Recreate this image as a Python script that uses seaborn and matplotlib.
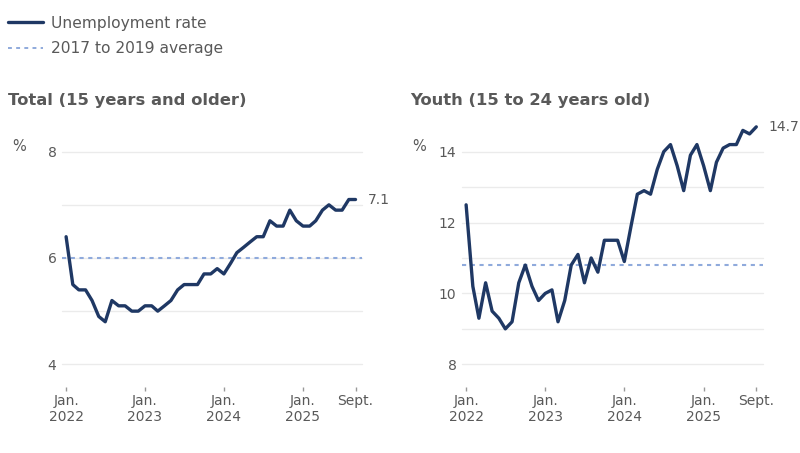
import numpy as np
import pandas as pd
import seaborn as sns
import matplotlib.pyplot as plt
from matplotlib.lines import Line2D

# Monthly data, Jan 2022 - Sept 2025
months = pd.date_range("2022-01-01", "2025-09-01", freq="MS")

total_rate = [6.4, 5.5, 5.4, 5.4, 5.2, 4.9, 4.8, 5.2, 5.1, 5.1, 5.0, 5.0,
              5.1, 5.1, 5.0, 5.1, 5.2, 5.4, 5.5, 5.5, 5.5, 5.7, 5.7, 5.8,
              5.7, 5.9, 6.1, 6.2, 6.3, 6.4, 6.4, 6.7, 6.6, 6.6, 6.9, 6.7,
              6.6, 6.6, 6.7, 6.9, 7.0, 6.9, 6.9, 7.1, 7.1]
youth_rate = [12.5, 10.2, 9.3, 10.3, 9.5, 9.3, 9.0, 9.2, 10.3, 10.8, 10.2, 9.8,
              10.0, 10.1, 9.2, 9.8, 10.8, 11.1, 10.3, 11.0, 10.6, 11.5, 11.5, 11.5,
              10.9, 11.9, 12.8, 12.9, 12.8, 13.5, 14.0, 14.2, 13.6, 12.9, 13.9, 14.2,
              13.6, 12.9, 13.7, 14.1, 14.2, 14.2, 14.6, 14.5, 14.7]
total_avg = 6.0
youth_avg = 10.8

titles = ["Total (15 years and older)", "Youth (15 to 24 years old)"]
tick_dates = pd.to_datetime(["2022-01-01", "2023-01-01", "2024-01-01", "2025-01-01", "2025-09-01"])
tick_labels = ["Jan.\n2022", "Jan.\n2023", "Jan.\n2024", "Jan.\n2025", "Sept."]

df = pd.DataFrame({"month": months, "total": total_rate, "youth": youth_rate})

sns.set_theme(style="white")
plt.rcParams['font.family'] = ['DejaVu Sans']

navy = "#1f3864"
avg_col = "#8faadc"
txt = "#595959"
grid_col = "#ebebeb"

fig = plt.figure(figsize=(8, 4.53), dpi=100)
ax1 = fig.add_axes([0.0775, 0.1958, 0.375, 0.4694])
ax2 = fig.add_axes([0.5775, 0.1958, 0.376, 0.4694])

panels = [
    (ax1, "total", total_avg, (4, 8), [4, 6, 8], np.arange(4, 9), "7.1"),
    (ax2, "youth", youth_avg, (8, 14), [8, 10, 12, 14], np.arange(8, 15), "14.7"),
]

for ax, col, avg, ylim, yt, grid_vals, last_lbl in panels:
    for g in grid_vals:
        ax.axhline(g, color=grid_col, lw=1, zorder=0, clip_on=False)
    ax.axhline(avg, color=avg_col, lw=1.5, linestyle=(0, (2, 2.2)), zorder=1)
    sns.lineplot(data=df, x="month", y=col, ax=ax, color=navy, lw=2.4,
                 clip_on=False, zorder=3)
    ax.set_ylim(*ylim)
    ax.set_yticks(yt)
    ax.set_xlim(pd.Timestamp("2021-12-13"), pd.Timestamp("2025-10-01"))
    ax.set_xticks(tick_dates)
    ax.set_xticklabels(tick_labels)
    for lbl in ax.get_xticklabels():
        lbl.set_linespacing(1.55)
    ax.set_xlabel("")
    ax.set_ylabel("")
    for s in ax.spines.values():
        s.set_visible(False)
    ax.spines['bottom'].set_position(('outward', 16))
    ax.tick_params(axis='x', bottom=True, length=3, width=1, color="#999999",
                   labelsize=10, labelcolor=txt, pad=2.5)
    ax.tick_params(axis='y', left=False, length=0, labelsize=10, labelcolor=txt, pad=4)
    ax.patch.set_alpha(0)
    ax.annotate(last_lbl, xy=(df["month"].iloc[-1], df[col].iloc[-1]),
                xytext=(9, 0), textcoords="offset points", va="center",
                ha="left", fontsize=10, color=txt, annotation_clip=False)
    ax.text(-0.165, 1.025, "%", transform=ax.transAxes, fontsize=10.5, color=txt,
            ha="left", va="center")

fig.text(0.01, 0.778, titles[0], fontsize=11.8, fontweight="bold", color=txt, va="center")
fig.text(0.5125, 0.778, titles[1], fontsize=11.8, fontweight="bold", color=txt, va="center")

handles = [Line2D([], [], color=navy, lw=2.4),
           Line2D([], [], color=avg_col, lw=1.4, linestyle=(0, (2, 2.2)))]
fig.legend(handles, ["Unemployment rate", "2017 to 2019 average"],
           loc="upper left", bbox_to_anchor=(-0.006, 0.994), frameon=False,
           fontsize=11.2, labelcolor=txt, handlelength=2.2, handletextpad=0.55,
           borderaxespad=0.35, borderpad=0.5, labelspacing=0.65)

fig.savefig("out.png", dpi=100, facecolor="white")
